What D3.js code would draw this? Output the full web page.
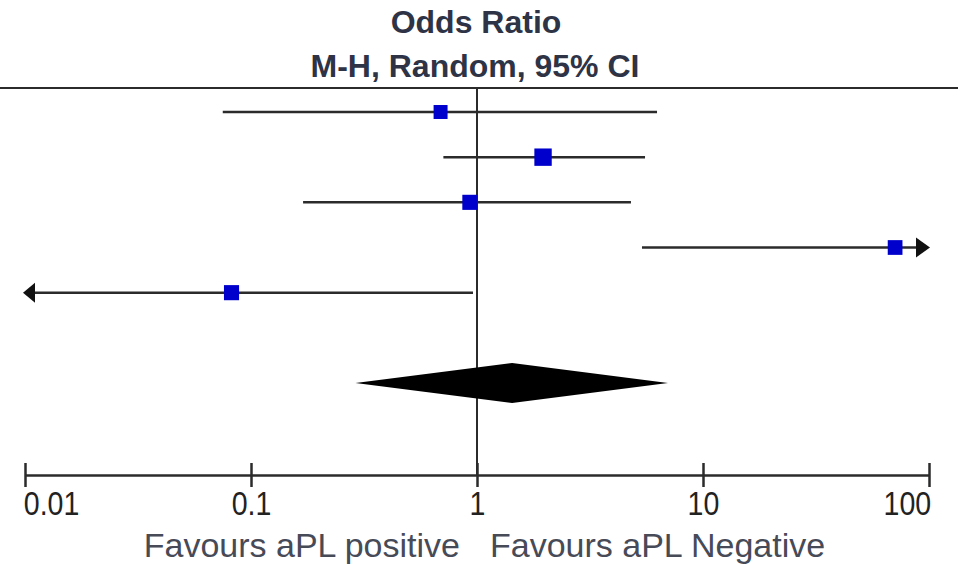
<!DOCTYPE html>
<html><head><meta charset="utf-8">
<script src="https://cdn.jsdelivr.net/npm/d3@7"></script>
<style>html,body{margin:0;padding:0;background:#fff;}svg{display:block;}</style>
</head><body>
<svg id="chart" width="968" height="564"></svg>
<script>
// ---- data ----
const studies = ["Study 1", "Study 2", "Study 3", "Study 4", "Study 5"];
const oddsRatio = [0.69, 1.96, 0.93, 70.8, 0.082];
const ciLower = [0.075, 0.71, 0.17, 5.37, 0.001];
const ciUpper = [6.26, 5.54, 4.80, 1000, 0.96];
const weights = [18.5, 23, 20, 19.5, 20];
const pooledOR = 1.43, pooledLower = 0.29, pooledUpper = 7.0;
const tickValues = [0.01, 0.1, 1, 10, 100];
const tickLabels = ["0.01", "0.1", "1", "10", "100"];
const titleLines = ["Odds Ratio", "M-H, Random, 95% CI"];
const favourLeft = "Favours aPL positive", favourRight = "Favours aPL Negative";

const svg = d3.select("#chart");
const x = d3.scaleLog().domain([0.01, 100]).range([25, 929]);
const y = d3.scaleLinear().domain([0, 6]).range([112, 383]);
const size = d3.scaleLinear().domain([0, 22.5]).range([0, 17]);
const axisY = 475;
const lineCol = "#2b2b2b";
const font = "Liberation Sans, Arial, sans-serif";

// title
svg.append("text").attr("x", 476).attr("y", 33).attr("text-anchor", "middle")
  .attr("font-family", font).attr("font-weight", "bold")
  .attr("font-size", 32).attr("fill", "#2e3346").text(titleLines[0]);
svg.append("text").attr("x", 475).attr("y", 77).attr("text-anchor", "middle")
  .attr("font-family", font).attr("font-weight", "bold")
  .attr("font-size", 32).attr("fill", "#2e3346").text(titleLines[1]);

// header line
svg.append("line").attr("x1", 0).attr("x2", 958).attr("y1", 88).attr("y2", 88)
  .attr("stroke", lineCol).attr("stroke-width", 2);

// null line
svg.append("line").attr("x1", x(1)).attr("x2", x(1)).attr("y1", 88).attr("y2", axisY)
  .attr("stroke", lineCol).attr("stroke-width", 2);

// axis
const axis = d3.axisBottom(x).tickValues(tickValues).tickFormat((d, i) => tickLabels[i])
  .tickSizeInner(12).tickSizeOuter(0).tickPadding(28);
const gAxis = svg.append("g").attr("transform", `translate(0,${axisY})`).call(axis);
gAxis.select(".domain").attr("stroke", lineCol).attr("stroke-width", 2.5);
gAxis.selectAll(".tick line").attr("y1", -12).attr("y2", 12).attr("stroke", lineCol).attr("stroke-width", 2.5);
gAxis.selectAll(".tick text").attr("font-family", font)
  .attr("font-size", 34).attr("fill", "#222").attr("dy", 0).attr("y", 40)
  .attr("transform", "scale(0.84,1)")
  .attr("text-anchor", (d, i) => i === 0 ? "start" : (i === tickValues.length - 1 ? "end" : "middle"))
  .attr("x", (d, i) => i === 0 ? -2 : (i === tickValues.length - 1 ? 2 : 0));

// favours labels
svg.append("text").attr("x", 460).attr("y", 557).attr("text-anchor", "end")
  .attr("font-family", font).attr("font-size", 34)
  .attr("fill", "#474a57").text(favourLeft);
svg.append("text").attr("x", 490).attr("y", 557).attr("text-anchor", "start")
  .attr("font-family", font).attr("font-size", 34)
  .attr("fill", "#474a57").text(favourRight);

// study rows
const [dMin, dMax] = x.domain();
const rows = studies.map((s, i) => ({
  i, or: oddsRatio[i], lo: ciLower[i], hi: ciUpper[i], w: weights[i]
}));
const gRows = svg.append("g");
rows.forEach(r => {
  const yy = y(r.i);
  const loClip = r.lo < dMin, hiClip = r.hi > dMax;
  const xl = loClip ? x(dMin) - 2 : x(r.lo);
  const xr = hiClip ? x(dMax) + 1 : x(r.hi);
  gRows.append("line").attr("x1", loClip ? xl + 10 : xl).attr("x2", hiClip ? xr - 12 : xr)
    .attr("y1", yy).attr("y2", yy).attr("stroke", lineCol).attr("stroke-width", 2.5);
  if (hiClip) {
    gRows.append("path").attr("d", `M${xr},${yy} L${xr - 14},${yy - 10} L${xr - 14},${yy + 10} Z`)
      .attr("fill", "#111");
  }
  if (loClip) {
    gRows.append("path").attr("d", `M${xl},${yy} L${xl + 12},${yy - 10} L${xl + 12},${yy + 10} Z`)
      .attr("fill", "#111");
  }
  const s = size(r.w);
  gRows.append("rect").attr("x", x(r.or) - s / 2).attr("y", yy - s / 2)
    .attr("width", s).attr("height", s).attr("fill", "#0000cc");
});

// pooled diamond
const yd = y(6);
svg.append("path")
  .attr("d", `M${x(pooledLower)},${yd} L${x(pooledOR)},${yd - 20} L${x(pooledUpper)},${yd} L${x(pooledOR)},${yd + 20} Z`)
  .attr("fill", "#000");
</script>
</body></html>
